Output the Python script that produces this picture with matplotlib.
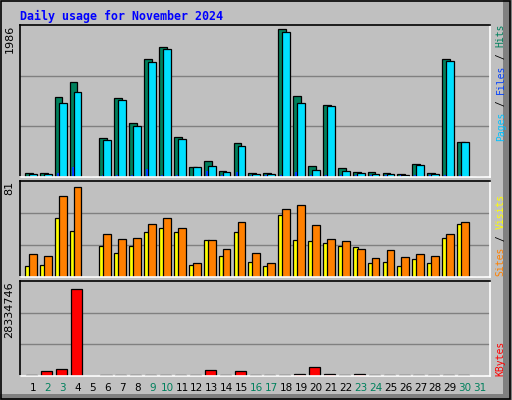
import matplotlib
matplotlib.use("Agg")
import matplotlib.pyplot as plt
from matplotlib.patches import Rectangle
import numpy as np

days = list(range(1, 32))
day_labels = [str(d) for d in days]
weekend = {2, 3, 9, 10, 16, 17, 23, 24, 30, 31}

hits = [55, 55, 1050, 1247, 0, 514, 1038, 711, 1537, 1694, 527, 125, 212, 81, 449, 55,
        53, 1930, 1062, 147, 946, 120, 68, 68, 55, 42, 175, 55, 1537, 459, 0]
files = [33, 33, 973, 1117, 0, 488, 1000, 671, 1497, 1667, 500, 125, 147, 68, 408, 42,
         35, 1900, 973, 94, 933, 81, 55, 42, 42, 30, 160, 42, 1520, 459, 0]
pages = [15, 15, 55, 125, 0, 20, 20, 20, 100, 20, 20, 5, 80, 20, 70, 20,
         20, 20, 70, 20, 20, 20, 20, 20, 20, 20, 20, 20, 20, 20, 0]
sites = [9, 10, 50, 39, 0, 26, 20, 26, 38, 41, 38, 10, 31, 18, 38, 13,
         9, 52, 31, 30, 29, 26, 25, 12, 13, 9, 15, 12, 33, 45, 0]
visits = [19, 18, 68, 76, 0, 36, 32, 33, 45, 50, 41, 12, 31, 24, 46, 20,
          12, 57, 61, 44, 32, 30, 24, 16, 23, 17, 19, 18, 36, 46, 0]
kbytes = [400000, 1560000, 2180000, 28334746, 0, 400000, 400000, 400000, 400000, 400000,
          400000, 400000, 1870000, 400000, 1560000, 400000, 400000, 400000, 620000,
          2800000, 600000, 400000, 600000, 400000, 400000, 400000, 400000, 400000,
          400000, 400000, 0]

BG = "#c0c0c0"
fig = plt.figure(figsize=(5.12, 4.0), dpi=100, facecolor=BG)
fig.add_artist(Rectangle((503/512, 0), 9/512, 1, transform=fig.transFigure,
                         facecolor="#808080", edgecolor="none", zorder=-9))
fig.add_artist(Rectangle((0, 0), 1, 6/400, transform=fig.transFigure,
                         facecolor="#808080", edgecolor="none", zorder=-9))
fig.add_artist(Rectangle((0.002, 0.003), 0.995, 0.995, transform=fig.transFigure,
                         facecolor="none", edgecolor="black", lw=1.2, zorder=-8))

x = np.array(days)
L, W = 20/512, 470/512
ax1 = fig.add_axes([L, 1-177/400, W, 152/400])
ax2 = fig.add_axes([L, 1-277/400, W, 96/400])
ax3 = fig.add_axes([L, 1-376/400, W, 95/400])

def style(ax, top):
    ax.set_facecolor(BG)
    ax.set_xlim(0.128, 31.67)
    ax.set_ylim(0, top)
    for s in ("top", "left"):
        ax.spines[s].set_color("black")
    for s in ("right", "bottom"):
        ax.spines[s].set_color("white")
    for s in ax.spines.values():
        s.set_linewidth(1.2)
    ax.set_xticks([])
    ax.set_yticks([])
    for f in (1/3, 2/3):
        ax.axhline(top*f, color="#808080", lw=1, zorder=0)

ekw = dict(edgecolor="black", linewidth=0.9, align="edge")
top1 = 1986
style(ax1, top1)
ax1.bar(x-0.54, hits, 0.52, color="#00805c", **ekw)
ax1.bar(x-0.27, files, 0.52, color="#00e0ff", **ekw)
ax1.bar(x-0.40, pages, 0.13, color="#0040ff", edgecolor="none", align="edge")

top2 = 81
style(ax2, top2)
ax2.bar(x-0.54, sites, 0.32, color="#ffff00", **ekw)
ax2.bar(x-0.27, visits, 0.52, color="#ff8000", **ekw)

top3 = 28334746*297/273
style(ax3, top3)
ax3.bar(x-0.47, kbytes, 0.74, color="#ff0000", **ekw)

mono = "DejaVu Sans Mono"
fig.text(20/512, 1-16/400, "Daily usage for November 2024", color="#0000ff",
         fontsize=8.4, fontweight="bold", family=mono, va="center")
for ax, lab in ((ax1, "1986"), (ax2, "81"), (ax3, "28334746")):
    ax.text(-0.012, 1.0, lab, transform=ax.transAxes, rotation=90, ha="right",
            va="top", fontsize=8, family="DejaVu Sans")

def right_label(ax, parts, ystart_px, axbottom_px, axh_px):
    y = ystart_px
    for txt, col in parts:
        ax.text(1.012, (axbottom_px - y)/axh_px, txt, transform=ax.transAxes,
                rotation=90, ha="left", va="bottom", color=col, fontsize=7,
                family=mono)
        y -= 5.85*len(txt)

right_label(ax1, [("Pages", "#00c0ff"), (" / ", "#000000"), ("Files", "#0040ff"),
                  (" / ", "#000000"), ("Hits", "#00805c")], 141, 177, 152)
right_label(ax2, [("Sites", "#ff8000"), (" / ", "#000000"), ("Visits", "#ffff00")],
            276, 277, 96)
right_label(ax3, [("KBytes", "#ff0000")], 376, 376, 95)

for d, lab in zip(days, day_labels):
    ax3.text(d, -0.13, lab, transform=ax3.get_xaxis_transform(), ha="center",
             va="center", fontsize=7.5, family="DejaVu Sans",
             color="#00805c" if d in weekend else "black")

fig.savefig("out.png", dpi=100, facecolor=BG)
